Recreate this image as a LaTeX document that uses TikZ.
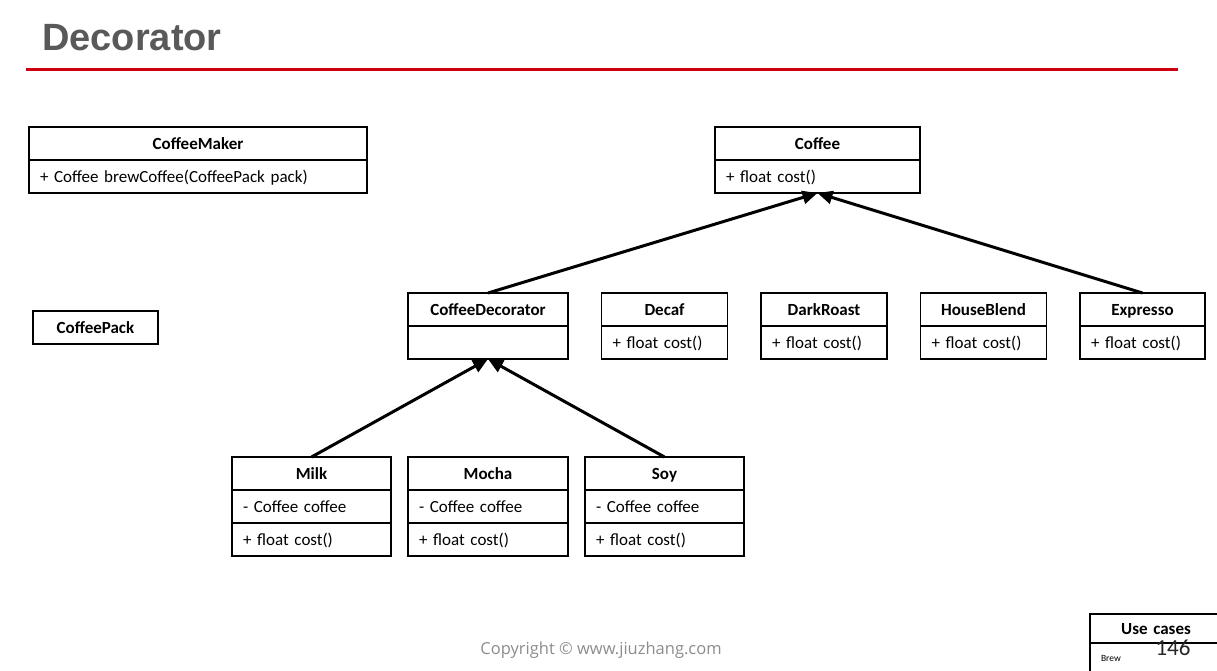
\documentclass[tikz,border=0pt]{standalone}
\usepackage{fontspec}
\setmainfont{Carlito}
\newfontfamily\titlefont{Liberation Sans}
\newfontfamily\copyfont{Open Sans}
\usepackage{xcolor}
\usetikzlibrary{positioning,arrows.meta}
\definecolor{titlegray}{RGB}{89,89,89}
\definecolor{rulered}{RGB}{204,0,17}
\definecolor{copygray}{RGB}{140,140,140}
\newcommand{\classfont}{\fontsize{17}{20}\selectfont}

\begin{document}
\begin{tikzpicture}[%
    x=1pt,
    y=-1pt,
    >={Triangle[length=15pt,width=13pt]},
    node distance=33.5pt,
    inherit/.style={%
      ->,
      line width=3pt
    },
    classhead/.style={%
      draw,
      line width=1.6pt,
      outer sep=0pt,
      inner xsep=11pt,
      inner ysep=0pt,
      minimum height=33pt,
      text height=15pt,
      text depth=4pt,
      text width=#1pt,
      align=center,
      font=\bfseries\classfont
    },
    classrow/.style={%
      classhead=#1,
      align=left,
      font=\classfont
    }
  ]
    \useasboundingbox (0,0) rectangle (1217,670);
    \clip (0,0) rectangle (1217,670);

    \node[font=\titlefont\bfseries\fontsize{38}{44}\selectfont, text=titlegray,
          anchor=base west, inner sep=0pt] (title) at (42,50) {Decorator};
    \draw[rulered, line width=3pt] (26,69) -- (1178,69);

    \node[classhead=316] (maker) at (198,143.5)               {CoffeeMaker};
    \node[classrow=316] (makerops) [below=0pt of maker]       {+ Coffee brewCoffee(CoffeePack pack)};
    \node[classhead=103] (pack) at (95.5,327.5)               {CoffeePack};

    \node[classhead=183] (coffee) at (817.5,143.5)            {Coffee};
    \node[classrow=183] (coffeeops) [below=0pt of coffee]     {+ float cost()};

    \node[classhead=138] (decorator) at (488,309.5)           {CoffeeDecorator};
    \node[classrow=138] (decoratorbody) [below=0pt of decorator] {};
    \node[classhead=104] (decaf) [right=of decorator]         {Decaf};
    \node[classrow=104] (decafops) [below=0pt of decaf]       {+ float cost()};
    \node[classhead=104] (dark) [right=of decaf]              {DarkRoast};
    \node[classrow=104] (darkops) [below=0pt of dark]         {+ float cost()};
    \node[classhead=104] (house) [right=of dark]              {HouseBlend};
    \node[classrow=104] (houseops) [below=0pt of house]       {+ float cost()};
    \node[classhead=103] (expresso) [right=of house]          {Expresso};
    \node[classrow=103] (expressoops) [below=0pt of expresso] {+ float cost()};

    \node[classhead=138] (mocha) [node distance=98pt,below=of decoratorbody] {Mocha};
    \node[classrow=138] (mochafield) [below=0pt of mocha]     {- Coffee coffee};
    \node[classrow=138] (mochaops) [below=0pt of mochafield]  {+ float cost()};
    \node[classhead=137] (milk) [node distance=17pt,left=of mocha]  {Milk};
    \node[classrow=137] (milkfield) [below=0pt of milk]       {- Coffee coffee};
    \node[classrow=137] (milkops) [below=0pt of milkfield]    {+ float cost()};
    \node[classhead=137] (soy) [node distance=17pt,right=of mocha]  {Soy};
    \node[classrow=137] (soyfield) [below=0pt of soy]         {- Coffee coffee};
    \node[classrow=137] (soyops) [below=0pt of soyfield]      {+ float cost()};

    \path (decorator.north) edge [inherit] (coffeeops.south)
          (expresso.north)  edge [inherit] (coffeeops.south)
          (milk.north)      edge [inherit] (decoratorbody.south)
          (soy.north)       edge [inherit] (decoratorbody.south)
          ;

    \node[font=\copyfont\fontsize{16.5}{20}\selectfont, text=copygray]
          (copyright) at (601,650) {Copyright © www.jiuzhang.com};

    \node[classhead=110, minimum height=29pt] (usecases) at (1156,628.5) {Use cases};
    \node[classrow=110, minimum height=32pt, text height=7pt, text depth=2pt,
          font=\fontsize{9.5}{11}\selectfont]
          (usecasesbody) [below=0pt of usecases] {Brew};
    \node[font=\fontsize{23}{26}\selectfont, text=black!85] (pagenum) at (1173,648) {146};
  \end{tikzpicture}
\end{document}
